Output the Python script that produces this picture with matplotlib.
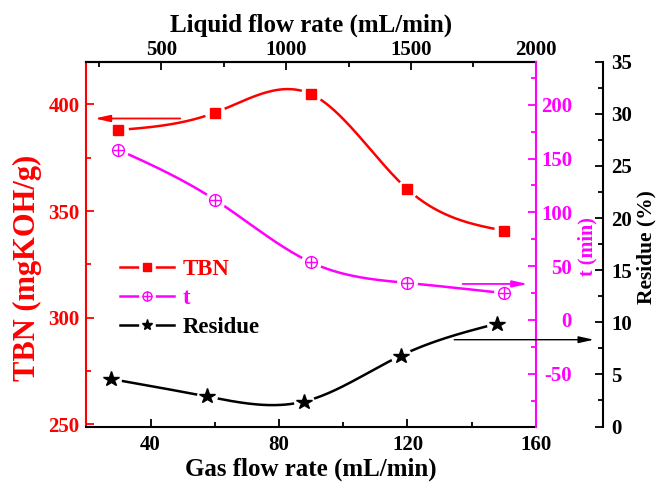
import numpy as np
import matplotlib
matplotlib.use('Agg')
import matplotlib.pyplot as plt
from matplotlib.lines import Line2D
from matplotlib.ticker import MultipleLocator

plt.rcParams['font.family'] = ['Liberation Serif', 'DejaVu Serif']
plt.rcParams['font.weight'] = 'bold'
plt.rcParams['axes.labelweight'] = 'bold'
plt.rcParams['axes.unicode_minus'] = False

# data
gas_tbn = [30, 60, 90, 120, 150]
tbn = [388.0, 396.1, 404.8, 360.2, 340.8]
gas_t = [30, 60, 90, 120, 150]
t_min = [158.2, 111.8, 53.5, 34.4, 25.0]
gas_res = [27.7, 57.6, 87.8, 117.9, 148.0]
residue = [4.56, 2.88, 2.40, 6.80, 9.88]

gas_ticks = [40, 80, 120, 160]
liquid_ticks = [500, 1000, 1500, 2000]
tbn_ticks = [250, 300, 350, 400]
t_ticks = [-50, 0, 50, 100, 150, 200]
res_ticks = [0, 5, 10, 15, 20, 25, 30, 35]

RED = '#FF0000'
MAG = '#FF00FF'


def natural_spline(x, y, n=300):
    # plain natural cubic spline, like Origin's "spline" connect
    x = np.asarray(x, float)
    y = np.asarray(y, float)
    k = len(x)
    h = np.diff(x)
    A = np.zeros((k, k))
    b = np.zeros(k)
    A[0, 0] = A[-1, -1] = 1
    for i in range(1, k - 1):
        A[i, i - 1] = h[i - 1]
        A[i, i] = 2 * (h[i - 1] + h[i])
        A[i, i + 1] = h[i]
        b[i] = 6 * ((y[i + 1] - y[i]) / h[i] - (y[i] - y[i - 1]) / h[i - 1])
    M = np.linalg.solve(A, b)
    xs = np.linspace(x[0], x[-1], n)
    j = np.clip(np.searchsorted(x, xs) - 1, 0, k - 2)
    dx1 = x[j + 1] - xs
    dx0 = xs - x[j]
    hj = h[j]
    ys = (M[j] * dx1 ** 3 + M[j + 1] * dx0 ** 3) / (6 * hj) \
        + (y[j] / hj - M[j] * hj / 6) * dx1 + (y[j + 1] / hj - M[j + 1] * hj / 6) * dx0
    return xs, ys


fig = plt.figure(figsize=(6.66, 4.87), dpi=100)
ax = fig.add_axes([0.1297, 0.1242, 0.675, 0.749])
ax2 = ax.twinx()
ax3 = ax.twinx()

# TBN
xs, ys = natural_spline(gas_tbn, tbn)
ax.plot(xs, ys, color=RED, lw=1.8, zorder=2)
ax.plot(gas_tbn, tbn, ls='none', marker='o', ms=14, mfc='white', mec='white', zorder=3)
ax.plot(gas_tbn, tbn, ls='none', marker='s', ms=7.5, color=RED, zorder=4)

# t
xs, ys = natural_spline(gas_t, t_min)
ax2.plot(xs, ys, color=MAG, lw=1.8, zorder=2)
ax2.plot(gas_t, t_min, ls='none', marker='o', ms=14, mfc='white', mec='white', zorder=3)
ax2.plot(gas_t, t_min, ls='none', marker='o', ms=8.5, mfc='white', mec=MAG, mew=1.0, zorder=4)
ax2.plot(gas_t, t_min, ls='none', marker='+', ms=8.5, color=MAG, mew=1.0, zorder=5)

# residue
xs, ys = natural_spline(gas_res, residue)
ax3.plot(xs, ys, color='black', lw=1.8, zorder=2)
ax3.plot(gas_res, residue, ls='none', marker='o', ms=14, mfc='white', mec='white', zorder=3)
ax3.plot(gas_res, residue, ls='none', marker='*', ms=11.5, color='black', zorder=4)

# arrows pointing to each axis
ax.annotate('', xy=(21.7, 393.4), xytext=(50.1, 393.4),
            arrowprops=dict(arrowstyle='-|>,head_length=0.9,head_width=0.2', color=RED, lw=1.3),
            zorder=6)
ax2.annotate('', xy=(158.3, 33.5), xytext=(136.3, 33.5),
             arrowprops=dict(arrowstyle='-|>,head_length=0.9,head_width=0.2', color=MAG, lw=1.3),
             zorder=6)
ax3.annotate('', xy=(178.9, 8.33), xytext=(133.7, 8.33), annotation_clip=False,
             arrowprops=dict(arrowstyle='-|>,head_length=0.9,head_width=0.2', color='black', lw=1.0),
             zorder=6)

# axes ranges / ticks
ax.set_xlim(20, 160)
ax.set_ylim(249, 420)
ax2.set_ylim(-99, 240)
ax3.set_ylim(0, 35)

ax.set_xticks(gas_ticks)
ax.xaxis.set_minor_locator(MultipleLocator(20))
ax.set_yticks(tbn_ticks)
ax.yaxis.set_minor_locator(MultipleLocator(25))
ax2.set_yticks(t_ticks)
ax2.yaxis.set_minor_locator(MultipleLocator(25))
ax3.set_yticks(res_ticks)
ax3.yaxis.set_minor_locator(MultipleLocator(2.5))

top = ax.secondary_xaxis('top', functions=(lambda g: 200 + (g - 20) * 1800 / 140,
                                           lambda q: 20 + (q - 200) * 140 / 1800))
top.set_xticks(liquid_ticks)
top.xaxis.set_minor_locator(MultipleLocator(250))

lw_sp = 1.5
for a in (ax, ax2, ax3):
    for s in a.spines.values():
        s.set_linewidth(lw_sp)
ax.spines['left'].set_color(RED)
ax.spines['right'].set_visible(False)
for s in ('left', 'top', 'bottom'):
    ax2.spines[s].set_visible(False)
    ax3.spines[s].set_visible(False)
ax2.spines['right'].set_color(MAG)
ax3.spines['right'].set_position(('axes', 1.1486))
top.spines['top'].set_linewidth(lw_sp)

fs = 15
ax.tick_params(axis='x', which='both', direction='in', top=False, labelsize=fs, width=1.3, pad=6)
ax.tick_params(axis='x', which='major', length=6)
ax.tick_params(axis='x', which='minor', length=3.5)
ax.tick_params(axis='y', which='both', direction='in', colors=RED, labelsize=fs, width=1.3, pad=5)
ax.tick_params(axis='y', which='major', length=6)
ax.tick_params(axis='y', which='minor', length=3.5)
top.tick_params(axis='x', which='both', direction='in', labelsize=fs, width=1.3, pad=1)
top.tick_params(axis='x', which='major', length=6)
top.tick_params(axis='x', which='minor', length=3.5)
ax2.tick_params(axis='y', which='both', direction='in', colors=MAG, labelsize=fs, width=1.3, pad=26)
ax2.tick_params(axis='y', which='major', length=6)
ax2.tick_params(axis='y', which='minor', length=3.5)
for lab in ax2.get_yticklabels():
    lab.set_ha('right')
ax3.tick_params(axis='y', which='both', direction='in', colors='black', labelsize=fs, width=1.3, pad=6)
ax3.tick_params(axis='y', which='major', length=6)
ax3.tick_params(axis='y', which='minor', length=3.5)

ax.set_xlabel('Gas flow rate (mL/min)', fontsize=18, labelpad=2)
top.set_xlabel('Liquid flow rate (mL/min)', fontsize=18, labelpad=6)
ax.set_ylabel('TBN (mgKOH/g)', fontsize=22, color=RED)
ax.yaxis.set_label_coords(-0.099, 0.436)
ax2.set_ylabel('t (min)', fontsize=14.5, color=MAG)
ax2.yaxis.set_label_coords(1.092, 0.492)
ax3.set_ylabel('Residue (%)', fontsize=15.5, color='black')
ax3.yaxis.set_label_coords(1.2246, 0.492)

# legend
def handle(color, marker, ms, mfc, extra=None):
    parts = [Line2D([], [], color=color, lw=1.8),
             Line2D([], [], ls='none', marker='o', ms=11, mfc='white', mec='white'),
             Line2D([], [], ls='none', marker=marker, ms=ms, mfc=mfc, mec=color, color=color, mew=1.0)]
    if extra:
        parts.append(Line2D([], [], ls='none', marker=extra, ms=ms, color=color, mew=1.0))
    return tuple(parts)

handles = [handle(RED, 's', 5.5, RED),
           handle(MAG, 'o', 6.5, 'white', '+'),
           handle('black', '*', 8, 'black')]
ax3.legend(handles, ['TBN', 't', 'Residue'], loc='upper left', bbox_to_anchor=(0.074, 0.46),
           frameon=False, fontsize=16.5, handlelength=2.35, handletextpad=0.4,
           labelspacing=0.35, borderpad=0, borderaxespad=0,
           labelcolor=[RED, MAG, 'black'])

fig.savefig('out.png', dpi=100)
